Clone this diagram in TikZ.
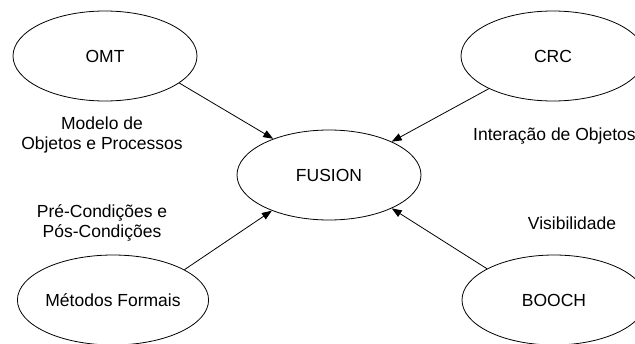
\documentclass[tikz,border=0pt]{standalone}
\usepackage{fontspec}
\setmainfont{Liberation Sans}
\usetikzlibrary{shapes.geometric,arrows.meta}
\begin{document}
\begin{tikzpicture}[x=1pt,y=-1pt,
  method/.style={draw,ellipse,line width=0.8pt,minimum width=184pt,minimum height=90pt,inner sep=0pt,font=\fontsize{17.5}{20}\selectfont},
  note/.style={align=center,inner sep=0pt,font=\fontsize{17.5}{20}\selectfont},
  flow/.style={line width=0.8pt,-{Triangle[length=10pt,width=7.5pt]}}]
\useasboundingbox (0,0) rectangle (635,343);
\clip (0,0) rectangle (635,343);
\fill[white] (0,0) rectangle (635,343);

\node[method] (omt) at (105,56) {OMT};
\node[method] (crc) at (553,56) {CRC};
\node[method] (fus) at (329,175) {FUSION};
\node[method] (mf) at (113,300) {Métodos Formais};
\node[method] (booch) at (554,300) {BOOCH};

\node[note] (l1) at (102,135) {Modelo de\\Objetos e Processos};
\node[note,anchor=west] (l2) at (473,136) {Interação de Objetos};
\node[note] (l3) at (102,223) {Pré-Condições e\\Pós-Condições};
\node[note] (l4) at (572,223) {Visibilidade};

\draw[flow] (omt.-20.5) -- (fus.147.7);
\draw[flow] (crc.207.6) -- (fus.28.7);
\draw[flow] (mf.23.2) -- (fus.212.3);
\draw[flow] (booch.155) -- (fus.-28);
\end{tikzpicture}
\end{document}
